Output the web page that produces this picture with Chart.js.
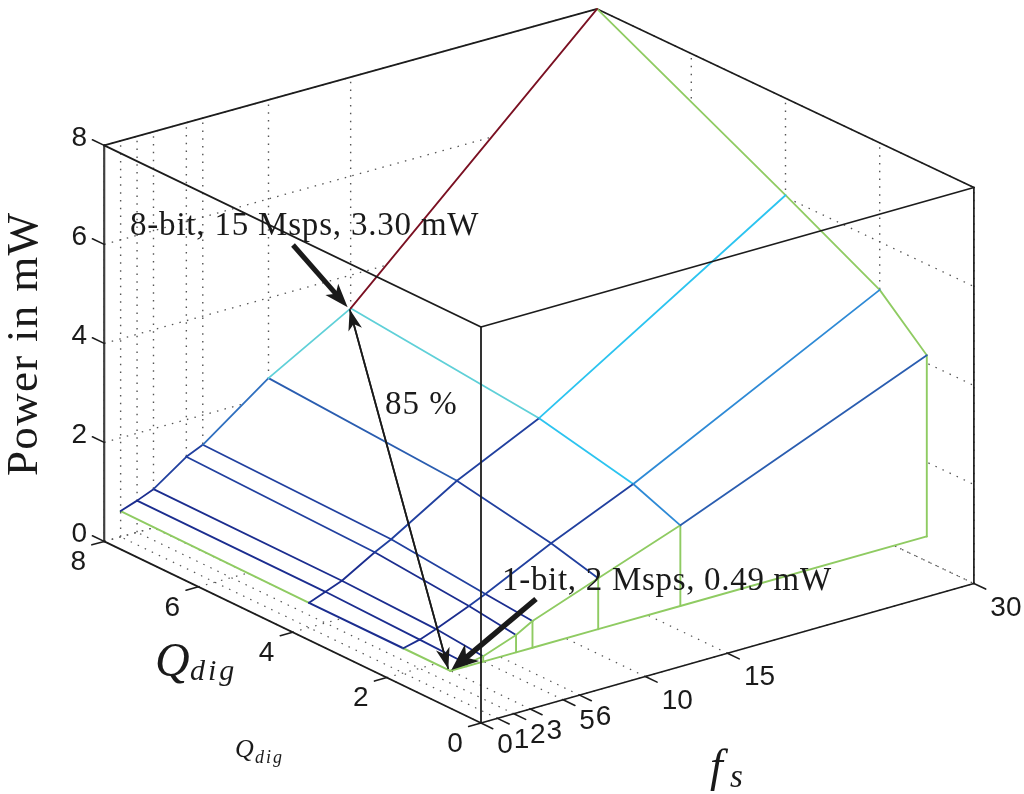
<!DOCTYPE html>
<html><head><meta charset="utf-8">
<style>html,body{margin:0;padding:0;background:#fff}canvas{display:block}</style>
<script src="https://cdn.jsdelivr.net/npm/chart.js@4/dist/chart.umd.js"></script>
</head><body>
<canvas id="c" width="1024" height="794"></canvas>
<script>
// ---- data ----
const fsValues = [1, 2, 3, 5, 6, 10, 15, 30];
const qValues = [8, 4, 2, 1];
const powerQ8 = [0.52, 0.64, 0.78, 1.25, 1.40, 2.38, 3.33, 8.00];
const powerQ4 = [0.50, 0.63, 0.76, 1.15, 1.32, 2.13, 2.93, 6.04];
const powerQ2 = [0.50, 0.58, 0.70, 0.98, 1.13, 1.78, 2.51, 5.03];
const powerQ1 = [0.50, 0.55, 0.61, 0.85, 1.04, 1.53, 2.13, 4.16];
const skirtLevel = 0.5;
const fsTicks = [0, 1, 2, 3, 5, 6, 10, 15, 30];
const qTicks = [0, 2, 4, 6, 8];
const powerTicks = [0, 2, 4, 6, 8];
const fsMax = 30, qMax = 8, powerMax = 8;

// ---- styles ----
const NAVY = '#1b2d8f', DK = '#21409f', MID = '#2a5db0', BL = '#2e8ad6', SKY = '#2cc4f0', TEAL = '#5fd0d8', RED = '#7a1022', GREEN = '#8fcb62';
const edgeColorsQ = [
  [NAVY, NAVY, DK, DK, '#2f6fbf', TEAL, RED],
  [NAVY, NAVY, NAVY, DK, DK, DK, SKY],
  [NAVY, NAVY, NAVY, DK, DK, DK, BL],
  [GREEN, GREEN, GREEN, GREEN, GREEN, GREEN, MID]
];
const edgeColorsFs = [
  [GREEN, NAVY, GREEN],
  [NAVY, NAVY, NAVY],
  [NAVY, NAVY, NAVY],
  [DK, NAVY, NAVY],
  [DK, DK, NAVY],
  [MID, DK, DK],
  [TEAL, SKY, BL],
  [GREEN, GREEN, GREEN]
];
const powerRows = [powerQ8, powerQ4, powerQ2, powerQ1];

// fixed oblique view of the 3-D box
function view(fs, q, p) {
  return {
    x: 481 + 16.43 * fs - 47.1 * q,
    y: 723 - 4.65 * fs - 22.7 * q + 0.0125 * fs * q - 49.5 * p
  };
}

const sets = [];
function line(pts, color, width, dash) {
  sets.push({ data: pts, showLine: true, pointRadius: 0, borderColor: color, borderWidth: width,
    borderDash: dash || [], fill: false, tension: 0, clip: false, borderCapStyle: dash ? 'butt' : 'round', borderJoinStyle: 'round' });
}
function face(pts) {
  sets.push({ data: pts, showLine: true, pointRadius: 0, borderWidth: 0, borderColor: 'rgba(0,0,0,0)',
    backgroundColor: '#fff', fill: 'shape', tension: 0, clip: false });
}
const DOT = [1.5, 6.3], DOTC = '#555555', AX = '#1c1c1c';

// dotted grid on back walls and floor
fsTicks.forEach(f => {
  line([view(f, qMax, 0), view(f, qMax, powerMax)], DOTC, 1.4, DOT);
  line([view(f, 0, 0), view(f, qMax, 0)], DOTC, 1.2, DOT);
});
qTicks.forEach(q => {
  line([view(fsMax, q, 0), view(fsMax, q, powerMax)], DOTC, 1.4, DOT);
  line([view(0, q, 0), view(fsMax, q, 0)], DOTC, 1.2, DOT);
});
powerTicks.forEach(p => {
  line([view(0, qMax, p), view(fsMax, qMax, p)], DOTC, 1.3, DOT);
  line([view(fsMax, qMax, p), view(fsMax, 0, p)], DOTC, 1.3, DOT);
});

// back edges of the box
line([view(0, qMax, 0), view(0, qMax, powerMax)], '#404040', 2.2);
line([view(fsMax, 0, 0), view(fsMax, 0, powerMax)], AX, 1.7);
line([view(0, qMax, powerMax), view(fsMax, qMax, powerMax)], AX, 1.7);
line([view(fsMax, qMax, powerMax), view(fsMax, 0, powerMax)], AX, 1.7);

// white faces of the mesh and its skirt
const lastQ = qValues.length - 1, lastF = fsValues.length - 1;
const outline = [];
fsValues.forEach((f, i) => outline.push(view(f, qValues[0], powerRows[0][i])));
qValues.forEach((q, j) => outline.push(view(fsMax, q, powerRows[j][lastF])));
fsValues.slice().reverse().forEach((f, i) => outline.push(view(f, qValues[lastQ], powerRows[lastQ][lastF - i])));
qValues.slice().reverse().forEach((q, j) => outline.push(view(fsValues[0], q, powerRows[lastQ - j][0])));
face(outline);
const skirt = [];
fsValues.forEach((f, i) => skirt.push(view(f, qValues[lastQ], powerRows[lastQ][i])));
fsValues.slice().reverse().forEach(f => skirt.push(view(f, qValues[lastQ], skirtLevel)));
face(skirt);

// skirt lines
line(fsValues.map(f => view(f, qValues[lastQ], skirtLevel)), GREEN, 1.9);
fsValues.forEach((f, i) => {
  if (i > 0) line([view(f, qValues[lastQ], powerRows[lastQ][i]), view(f, qValues[lastQ], skirtLevel)], GREEN, 1.9);
});

// mesh lines
fsValues.forEach((f, i) => {
  for (let j = 0; j < lastQ; j++) {
    line([view(f, qValues[j], powerRows[j][i]), view(f, qValues[j + 1], powerRows[j + 1][i])], edgeColorsFs[i][j], i === 0 ? 2 : 1.8);
  }
});
qValues.forEach((q, j) => {
  for (let i = 0; i < lastF; i++) {
    line([view(fsValues[i], q, powerRows[j][i]), view(fsValues[i + 1], q, powerRows[j][i + 1])], edgeColorsQ[j][i], 1.8);
  }
});

// front edges, axes and ticks
line([view(0, qMax, 0), view(0, 0, 0), view(fsMax, 0, 0)], AX, 1.8);
line([view(0, 0, 0), view(0, 0, powerMax)], AX, 1.8);
line([view(0, qMax, powerMax), view(0, 0, powerMax), view(fsMax, 0, powerMax)], AX, 1.8);
fsTicks.forEach(f => line([view(f, 0, 0), view(f, -0.25, 0)], AX, 1.6));
qTicks.forEach(q => line([view(0, q, 0), view(-0.75, q, 0)], AX, 1.6));
powerTicks.forEach(p => line([view(0, qMax, p), view(0, qMax + 0.25, p)], AX, 1.6));

sets.forEach((d, i) => { d.order = sets.length - i; });

// ---- text and arrows ----
const SANS = '"Liberation Sans", Arial, sans-serif';
const SERIF = '"Liberation Serif", serif';
function put(ctx, str, x, y, font, align, spacing) {
  ctx.font = font;
  ctx.textAlign = align || 'left';
  ctx.letterSpacing = spacing || '0px';
  ctx.fillText(str, x, y);
  ctx.letterSpacing = '0px';
}
function arrow(ctx, from, to, width, len, half, notch) {
  const dx = to.x - from.x, dy = to.y - from.y, d = Math.hypot(dx, dy), ux = dx / d, uy = dy / d;
  const nx = -uy, ny = ux;
  ctx.lineWidth = width;
  ctx.lineCap = 'butt';
  ctx.beginPath();
  ctx.moveTo(from.x, from.y);
  ctx.lineTo(to.x - ux * len * 0.7, to.y - uy * len * 0.7);
  ctx.stroke();
  ctx.beginPath();
  ctx.moveTo(to.x, to.y);
  ctx.lineTo(to.x - ux * len + nx * half, to.y - uy * len + ny * half);
  ctx.lineTo(to.x - ux * len * notch, to.y - uy * len * notch);
  ctx.lineTo(to.x - ux * len - nx * half, to.y - uy * len - ny * half);
  ctx.closePath();
  ctx.fill();
}
const overlay = {
  id: 'overlay',
  afterDatasetsDraw(chart) {
    const ctx = chart.ctx;
    ctx.save();
    ctx.fillStyle = '#1a1a1a';
    ctx.strokeStyle = '#1a1a1a';
    ctx.textBaseline = 'middle';
    const tickFont = '28px ' + SANS;
    fsTicks.forEach(f => {
      const p = view(f, 0, 0), two = f >= 10;
      put(ctx, String(f), p.x + (two ? 32 : 24), p.y + (two ? 24.5 : 22), tickFont, 'center');
    });
    qTicks.forEach(q => {
      const p = view(0, q, 0);
      put(ctx, String(q), p.x - 26, p.y + 21, tickFont, 'center');
    });
    powerTicks.forEach(v => {
      const p = view(0, qMax, v);
      put(ctx, String(v), p.x - 25, p.y - 7, tickFont, 'center');
    });
    ctx.textBaseline = 'alphabetic';
    put(ctx, '8-bit, 15 Msps, 3.30 mW', 130, 235, '33px ' + SERIF, 'left', '0.8px');
    put(ctx, '1-bit, 2 Msps, 0.49 mW', 502, 590, '33px ' + SERIF, 'left', '0.7px');
    put(ctx, '85 %', 385, 414, '33px ' + SERIF, 'left', '1px');
    put(ctx, 'Q', 155, 676, 'italic 48px ' + SERIF);
    put(ctx, 'dig', 190, 680, 'italic 30px ' + SERIF, 'left', '3px');
    put(ctx, 'Q', 235, 757, 'italic 26px ' + SERIF);
    put(ctx, 'dig', 255, 763, 'italic 18px ' + SERIF, 'left', '2px');
    put(ctx, 'f', 710, 781, 'italic 46px ' + SERIF);
    put(ctx, 's', 730, 787, 'italic 33px ' + SERIF);
    ctx.save();
    ctx.translate(37, 476);
    ctx.rotate(-Math.PI / 2);
    put(ctx, 'Power in mW', 0, 0, '45px ' + SERIF, 'left', '1.3px');
    ctx.restore();
    // annotation arrows, tips on the two labelled mesh points
    const top = view(fsValues[6], qValues[0], powerQ8[6]);
    const bottom = view(fsValues[0], qValues[3], powerQ1[0]);
    arrow(ctx, { x: 293, y: 245 }, { x: top.x - 3, y: top.y - 1 }, 5, 24, 8.5, 0.75);
    arrow(ctx, { x: 536, y: 599 }, { x: bottom.x + 1, y: bottom.y - 1 }, 5.5, 27, 11, 0.72);
    const a = { x: top.x - 1, y: top.y + 1 }, b = { x: bottom.x - 2, y: bottom.y - 2 };
    arrow(ctx, a, b, 1.7, 21, 7, 0.72);
    arrow(ctx, b, a, 1.7, 21, 7, 0.72);
    ctx.restore();
  }
};

new Chart(document.getElementById('c'), {
  type: 'scatter',
  data: { datasets: sets },
  plugins: [overlay],
  options: {
    responsive: false, animation: false, events: [],
    layout: { padding: 0 },
    plugins: { legend: { display: false }, tooltip: { enabled: false }, title: { display: false } },
    scales: {
      x: { type: 'linear', min: 0, max: 1024, display: false },
      y: { type: 'linear', min: 0, max: 794, reverse: true, display: false }
    }
  }
});
</script>
</body></html>
